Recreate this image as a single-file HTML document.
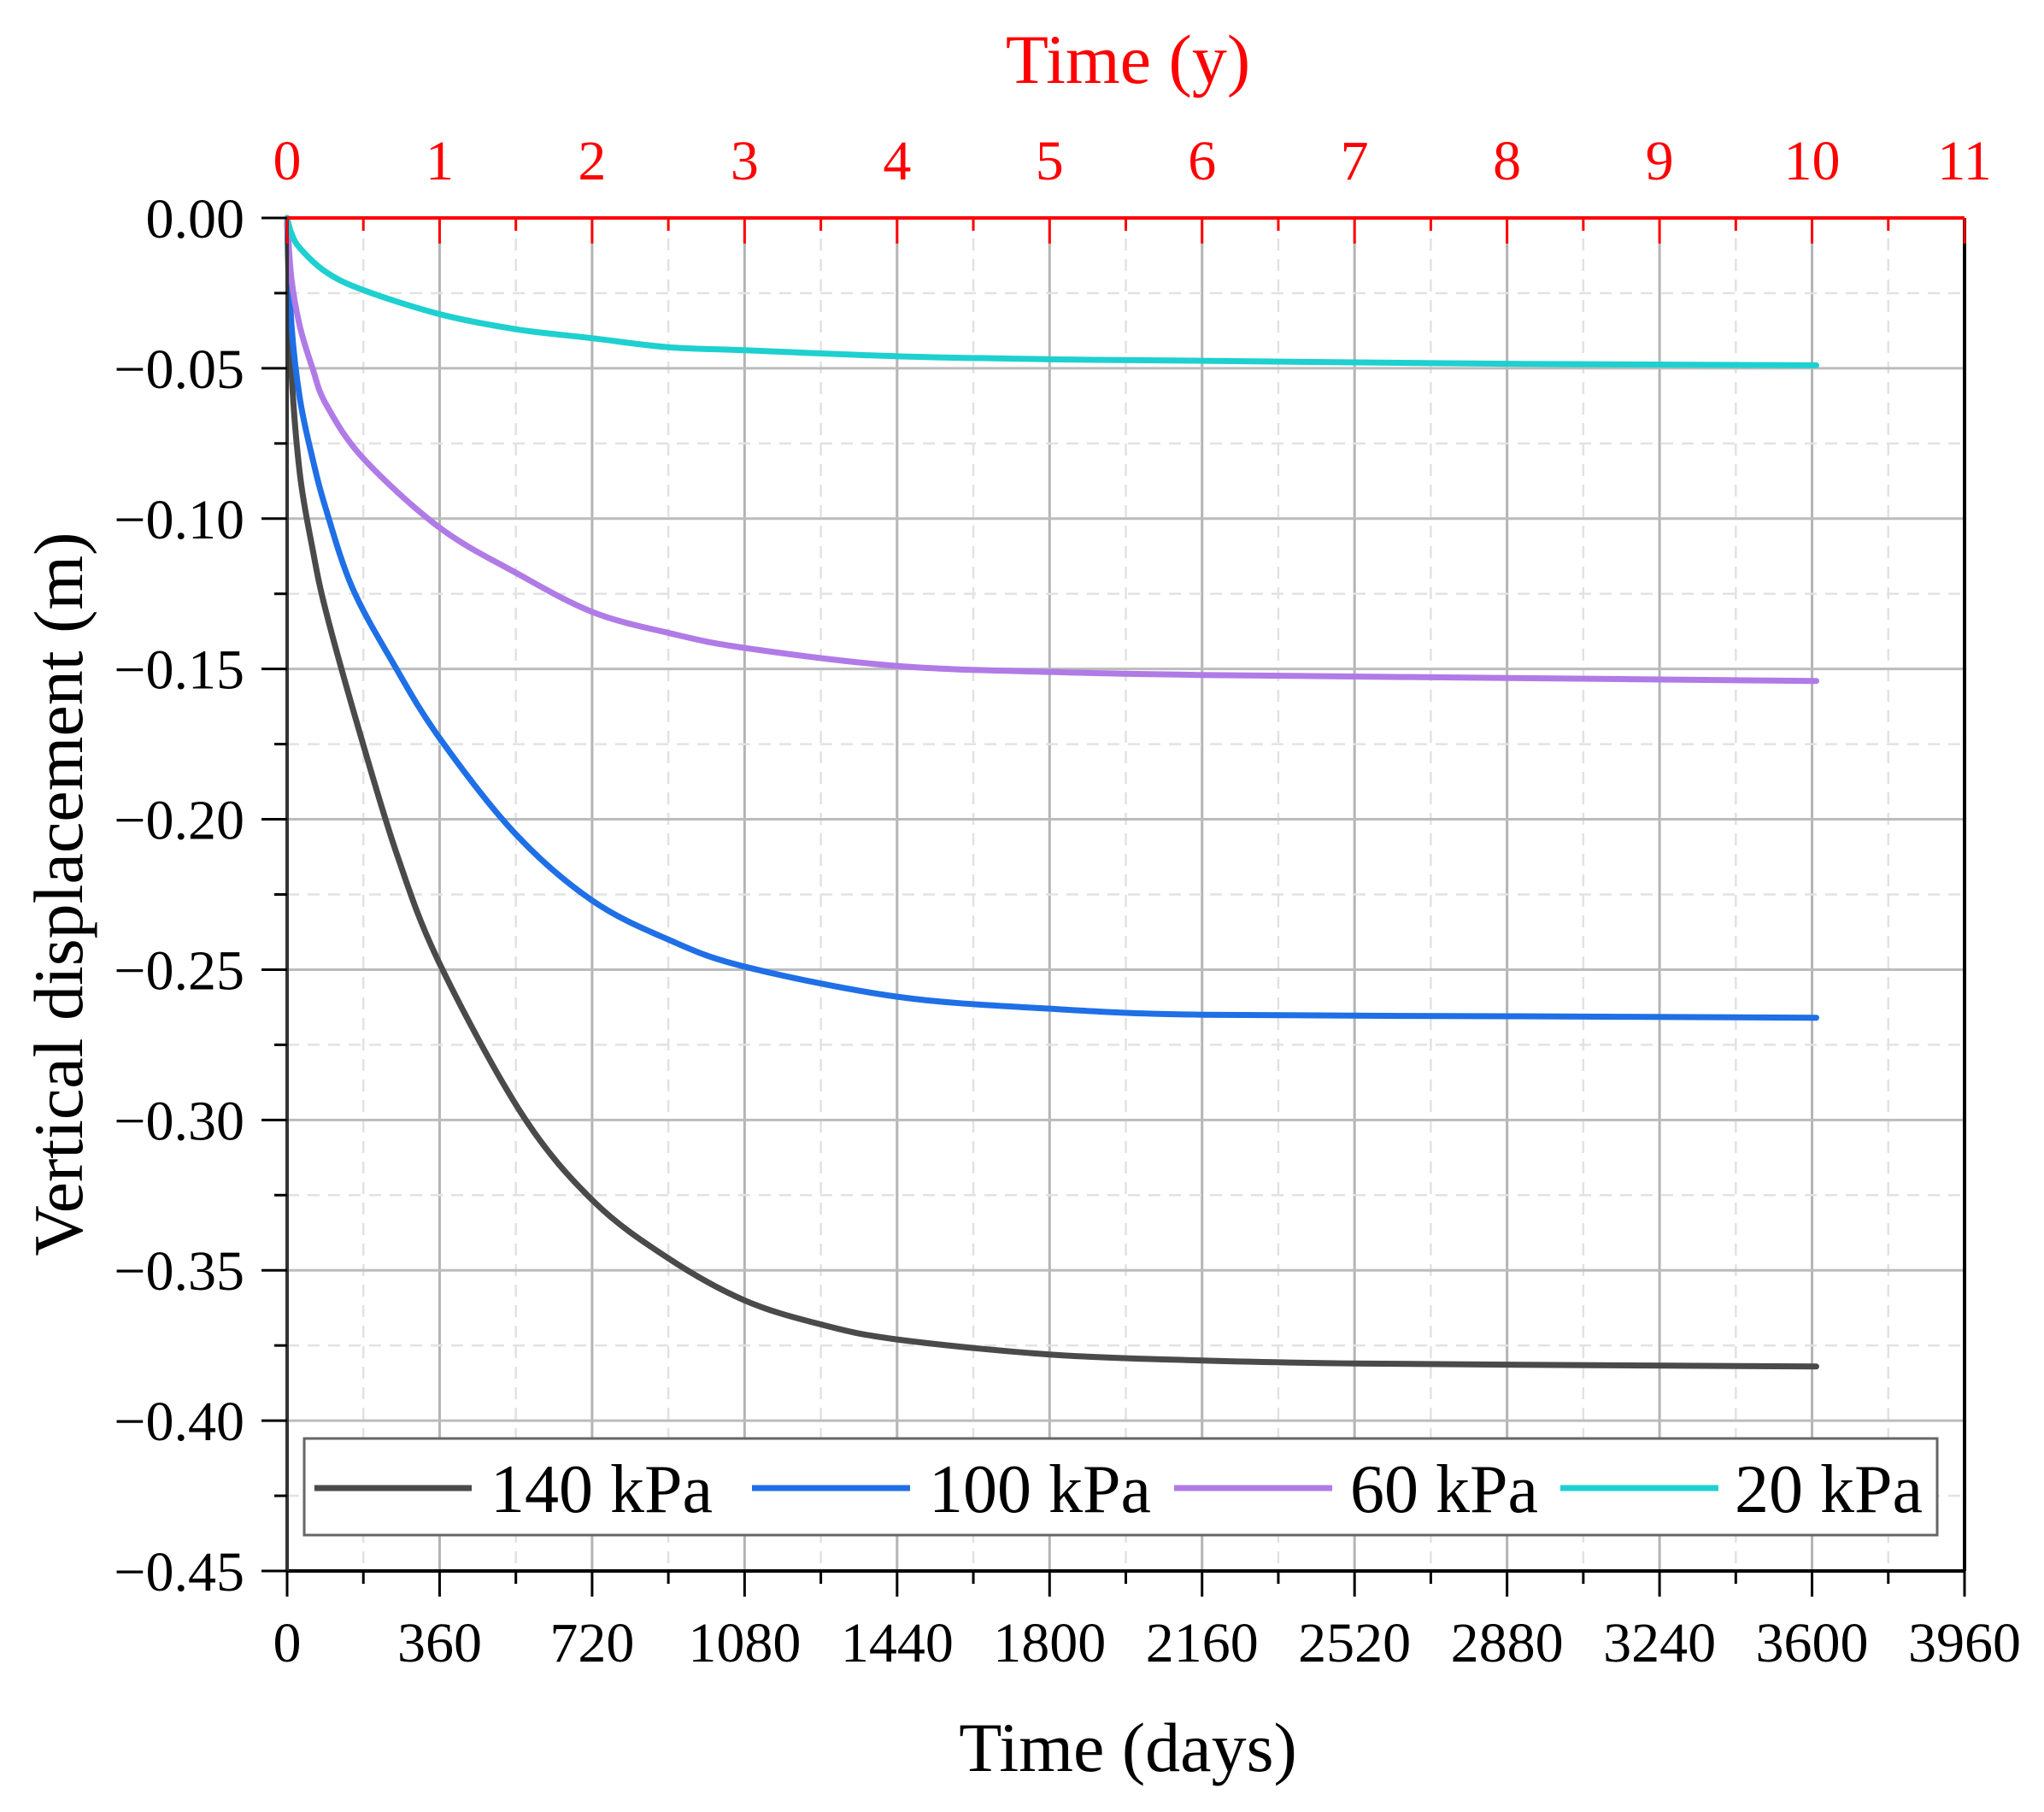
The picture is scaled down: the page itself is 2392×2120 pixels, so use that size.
<!DOCTYPE html>
<html><head><meta charset="utf-8"><style>
html,body{margin:0;padding:0;background:#fff;}
svg{display:block;font-family:"Liberation Serif",serif;}
</style></head><body>
<svg id="s" width="2392" height="2120" viewBox="0 0 2392 2120" xmlns="http://www.w3.org/2000/svg">
<rect width="2392" height="2120" fill="#fff"/>
<g id="grid"></g>
<g id="curves" fill="none" stroke-width="7" stroke-linejoin="round" stroke-linecap="round"></g>
<g id="axes"></g>
<g id="labels"></g>
<text x="1320" y="97" font-size="82" fill="#ff0000" text-anchor="middle">Time (y)</text>
<text x="1320" y="2072" font-size="82" fill="#000" text-anchor="middle">Time (days)</text>
<text transform="translate(96,1046) rotate(-90)" font-size="82" fill="#000" text-anchor="middle">Vertical displacement (m)</text>
<rect x="356" y="1683" width="1911" height="113" fill="#fff" stroke="#666" stroke-width="3"/>
<g stroke-width="7">
<line x1="368" y1="1741" x2="552" y2="1741" stroke="#4a4a4a"/>
<line x1="880" y1="1741" x2="1065" y2="1741" stroke="#1f6fe6"/>
<line x1="1374" y1="1741" x2="1559" y2="1741" stroke="#b07be6"/>
<line x1="1826" y1="1741" x2="2011" y2="1741" stroke="#1fd0d0"/>
</g>
<g font-size="80" fill="#000">
<text x="574" y="1769">140 kPa</text>
<text x="1087" y="1769">100 kPa</text>
<text x="1580" y="1769">60 kPa</text>
<text x="2030" y="1769">20 kPa</text>
</g>
</svg>
<script>
const X0=336,X1=2299,Y0=255,Y1=1838;
const xs=t=>X0+(X1-X0)*t/3960, ys=v=>Y0+(Y1-Y0)*(-v)/0.45;
const NS="http://www.w3.org/2000/svg";
function el(p,tag,a,txt){const e=document.createElementNS(NS,tag);for(const k in a)e.setAttribute(k,a[k]);if(txt!==undefined)e.textContent=txt;document.getElementById(p).appendChild(e);return e;}
for(let t=180;t<3960;t+=180){const x=xs(t);const maj=t%360==0;
 el('grid','line',{x1:x,y1:Y0,x2:x,y2:Y1,stroke:maj?'#b4b4b4':'#e2e2e2','stroke-width':maj?3:2.5,'stroke-dasharray':maj?'':'14 10'});}
for(let i=1;i<18;i++){const v=-0.025*i;const y=ys(v);const maj=i%2==0;
 el('grid','line',{x1:X0,y1:y,x2:X1,y2:y,stroke:maj?'#bcbcbc':'#e2e2e2','stroke-width':maj?3:2.5,'stroke-dasharray':maj?'':'14 10'});}
const data={
'#4a4a4a':[[0,0],[10,-0.05],[30,-0.085],[60,-0.11],[92,-0.131],[169,-0.170],[260,-0.212],[360,-0.248],[554,-0.298],[723,-0.327],[900,-0.346],[1080,-0.360],[1260,-0.368],[1440,-0.373],[1800,-0.378],[2160,-0.380],[2520,-0.381],[3000,-0.3815],[3610,-0.382]],
'#1f6fe6':[[0,0],[10,-0.035],[30,-0.06],[60,-0.08],[92,-0.097],[154,-0.123],[250,-0.148],[360,-0.173],[540,-0.205],[720,-0.227],[900,-0.240],[1080,-0.249],[1440,-0.259],[1800,-0.263],[2160,-0.265],[2880,-0.2655],[3610,-0.266]],
'#b07be6':[[0,0],[10,-0.02],[30,-0.036],[60,-0.05],[92,-0.062],[180,-0.080],[360,-0.103],[540,-0.118],[720,-0.131],[900,-0.138],[1080,-0.143],[1440,-0.149],[1800,-0.151],[2160,-0.152],[2880,-0.153],[3610,-0.154]],
'#1fd0d0':[[0,0],[10,-0.005],[30,-0.01],[92,-0.018],[180,-0.024],[360,-0.032],[540,-0.037],[720,-0.040],[900,-0.043],[1080,-0.044],[1440,-0.046],[1800,-0.047],[2160,-0.0475],[2880,-0.0485],[3610,-0.049]]};
for(const c in data){const p=data[c].map(d=>[xs(d[0]),ys(d[1])]);
 let s='M'+p[0][0]+','+p[0][1];
 for(let i=0;i<p.length-1;i++){const a=p[Math.max(0,i-1)],b=p[i],q=p[i+1],d=p[Math.min(p.length-1,i+2)];
  const c1=[b[0]+(q[0]-a[0])/6,b[1]+(q[1]-a[1])/6],c2=[q[0]-(d[0]-b[0])/6,q[1]-(d[1]-b[1])/6];
  s+=' C'+c1+' '+c2+' '+q;}
 el('curves','path',{d:s,stroke:c});}
el('axes','line',{x1:X0,y1:Y1,x2:X1,y2:Y1,stroke:'#000','stroke-width':4});
el('axes','line',{x1:X0,y1:Y0,x2:X0,y2:Y1,stroke:'#333','stroke-width':4});
el('axes','line',{x1:X1,y1:Y0,x2:X1,y2:Y1,stroke:'#000','stroke-width':4});
el('axes','line',{x1:X0,y1:Y0,x2:X1,y2:Y0,stroke:'#ff0000','stroke-width':4});
for(let t=0;t<=3960;t+=180){const x=xs(t);const maj=t%360==0;
 el('axes','line',{x1:x,y1:Y1,x2:x,y2:Y1+(maj?30:15),stroke:'#000','stroke-width':3});
 el('axes','line',{x1:x,y1:Y0,x2:x,y2:Y0+(maj?30:15),stroke:'#ff0000','stroke-width':3});
 if(maj){el('labels','text',{x:x,y:1944,'font-size':66,'text-anchor':'middle',fill:'#000'},String(t));
  el('labels','text',{x:x,y:210,'font-size':66,'text-anchor':'middle',fill:'#ff0000'},String(t/360));}}
for(let i=0;i<=18;i++){const v=-0.025*i;const y=ys(v);const maj=i%2==0;
 el('axes','line',{x1:X0,y1:y,x2:X0-(maj?30:15),y2:y,stroke:'#000','stroke-width':3});
 if(maj){const s=(i==0?'0.00':'\u2212'+(0.025*i).toFixed(2));
  el('labels','text',{x:286,y:y+23,'font-size':66,'text-anchor':'end',fill:'#000'},s);}}
</script>
</body></html>
